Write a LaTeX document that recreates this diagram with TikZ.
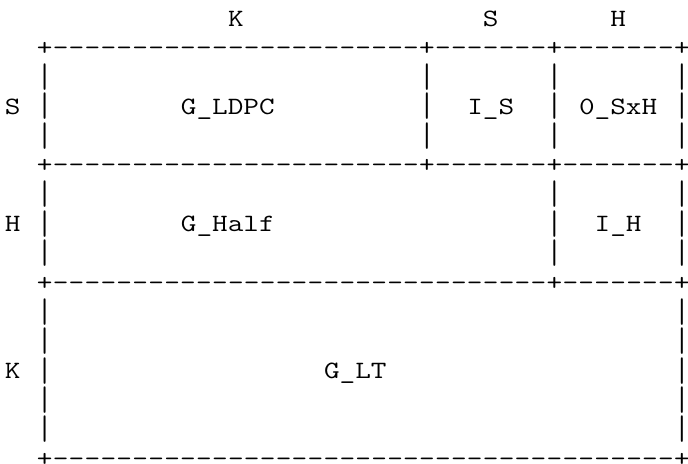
\documentclass[tikz,border=0pt]{standalone}
\usepackage{graphicx}
\usepackage{tikz}
\usetikzlibrary{positioning}

\newcommand{\wide}[1]{\scalebox{1.219}[1]{#1}}
\newcommand{\tallbar}{\raisebox{-2.6pt}{\scalebox{1.219}[1.37]{|}}}

\begin{document}
\begin{tikzpicture}[x=15.93pt, y=-29.35pt,
  txt/.style={inner sep=0pt, anchor=base, font=\fontsize{24.9}{29}\selectfont\ttfamily}]
  \useasboundingbox (-0.8035,-0.8944) rectangle (42.386,14.915);

  % column heads
  \node[txt] (headK) at (14,0) {\wide{K}};
  \node[txt] (headS) at (30,0) {\wide{S}};
  \node[txt] (headH) at (38,0) {\wide{H}};

  % row heads
  \node[txt] (rowS) at (0,3) {\wide{S}};
  \node[txt] (rowH) at (0,7) {\wide{H}};
  \node[txt] (rowK) at (0,12) {\wide{K}};

  % blocks
  \node[txt] (gldpc) at (13.5,3) {\wide{G\_LDPC}};
  \node[txt] (is) at (30,3) {\wide{I\_S}};
  \node[txt] (zsh) at (38,3) {\wide{0\_SxH}};
  \node[txt] (ghalf) at (13.5,7) {\wide{G\_Half}};
  \node[txt] (ih) at (38,7) {\wide{I\_H}};
  \node[txt] (glt) at (21.5,12) {\wide{G\_LT}};

  % borders
  \foreach \r in {1,5} {
    \foreach \c in {2,26,34,42} \node[txt] (plus\r-\c) at (\c,\r) {\wide{+}};
    \foreach \c in {3,...,25} \node[txt] (dash\r-\c) at (\c,\r) {\wide{-}};
    \foreach \c in {27,...,33} \node[txt] (dash\r-\c) at (\c,\r) {\wide{-}};
    \foreach \c in {35,...,41} \node[txt] (dash\r-\c) at (\c,\r) {\wide{-}};
  }
  \foreach \c in {2,34,42} \node[txt] (plus9-\c) at (\c,9) {\wide{+}};
  \foreach \c in {3,...,33} \node[txt] (dash9-\c) at (\c,9) {\wide{-}};
  \foreach \c in {35,...,41} \node[txt] (dash9-\c) at (\c,9) {\wide{-}};
  \foreach \c in {2,42} \node[txt] (plus15-\c) at (\c,15) {\wide{+}};
  \foreach \c in {3,...,41} \node[txt] (dash15-\c) at (\c,15) {\wide{-}};

  \foreach \r in {2,3,4}
    \foreach \c in {2,26,34,42} \node[txt] (bar\r-\c) at (\c,\r) {\tallbar};
  \foreach \r in {6,7,8}
    \foreach \c in {2,34,42} \node[txt] (bar\r-\c) at (\c,\r) {\tallbar};
  \foreach \r in {10,...,14}
    \foreach \c in {2,42} \node[txt] (bar\r-\c) at (\c,\r) {\tallbar};
\end{tikzpicture}
\end{document}
